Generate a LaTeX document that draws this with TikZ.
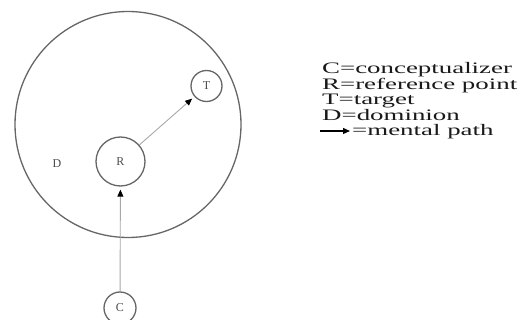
\documentclass[tikz,border=0pt]{standalone}
\usepackage{fontspec}
\setmainfont{Liberation Serif}
\usepackage{graphicx}
\usetikzlibrary{arrows.meta}
\definecolor{ringgray}{HTML}{666666}
\definecolor{pathgray}{HTML}{A8A8A8}
\tikzset{
  ring/.style={circle, draw=ringgray, line width=1.3pt, inner sep=0pt, font=\fontsize{12}{12}\selectfont, text=black!70},
  mpath/.style={draw=pathgray, line width=0.9pt, -{Triangle[length=7pt,width=6pt,fill=black,color=black]}, shorten >=3pt},
  legend/.style={anchor=base west, inner sep=0pt, font=\fontsize{16}{16}\selectfont, text=black!90}
}
\begin{document}
\begin{tikzpicture}[x=1pt,y=-1pt]
\useasboundingbox (0,0) rectangle (522,320);
\node[ring, minimum size=226pt] (D) at (128,124.5) {};
\node[ring, minimum size=49pt] (R) at (120.5,161.5) {R};
\node[ring, minimum size=31pt] (T) at (206.5,86) {T};
\node[ring, minimum size=32pt] (C) at (120,308) {C};
\node[font=\fontsize{12}{12}\selectfont, text=black!70] (Dl) at (57,164) {D};
\draw[mpath] (C) -- (R);
\draw[mpath] (R) -- (T);
\node[legend] (l1) at (322,74) {\scalebox{1.68}[1]{C=conceptualizer}};
\node[legend] (l2) at (322,89.5) {\scalebox{1.68}[1]{R=reference point}};
\node[legend] (l3) at (322,105) {\scalebox{1.68}[1]{T=target}};
\node[legend] (l4) at (322,120.5) {\scalebox{1.68}[1]{D=dominion}};
\node[legend] (l5) at (352,136) {\scalebox{1.68}[1]{=mental path}};
\coordinate (a1) at (320,131);
\coordinate (a2) at (350,131);
\draw[line width=1.3pt, -{Triangle[length=7pt,width=6pt]}] (a1) -- (a2);
\end{tikzpicture}
\end{document}
